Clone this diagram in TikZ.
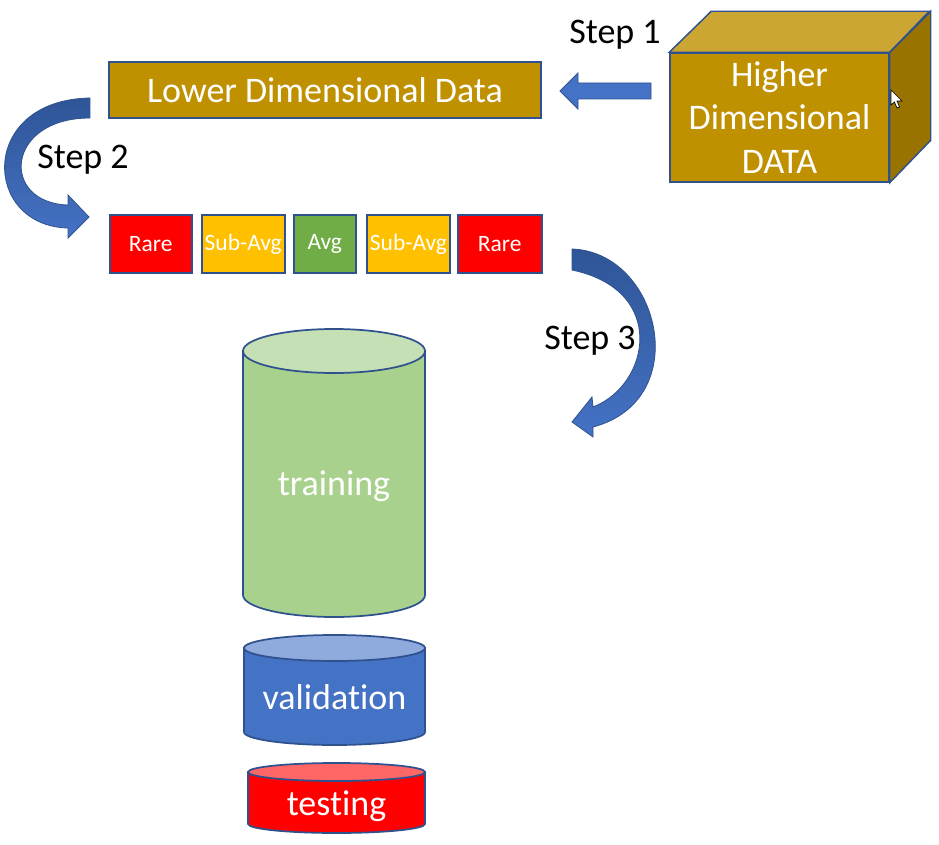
\documentclass[tikz,border=0pt]{standalone}
\usepackage{fontspec}
\setmainfont{Carlito}[Ligatures=NoCommon]

\definecolor{gold}{HTML}{BF9000}
\definecolor{goldtop}{HTML}{CCA633}
\definecolor{goldside}{HTML}{997300}
\definecolor{edgeblue}{HTML}{2F528F}
\definecolor{arrowblue}{HTML}{4472C4}
\definecolor{arrowdark}{HTML}{2F5597}
\definecolor{amber}{HTML}{FFC000}
\definecolor{avggreen}{HTML}{70AD47}
\definecolor{trainbody}{HTML}{A9D18E}
\definecolor{trainlid}{HTML}{C5E0B4}
\definecolor{valbody}{HTML}{4472C4}
\definecolor{vallid}{HTML}{8FAADC}
\definecolor{testbody}{HTML}{FF0000}
\definecolor{testlid}{HTML}{FF6666}

\tikzset{
  bigtext/.style={font=\fontsize{27}{32.4}\selectfont},
  smalltext/.style={font=\fontsize{17.6}{21}\selectfont},
  databox/.style={draw=edgeblue, fill=gold, text=white, bigtext, inner sep=0pt},
  classbox/.style={draw=edgeblue, line width=1.5pt, text=white, smalltext, inner sep=0pt, minimum height=42.75pt},
  blockarrow/.style={draw=edgeblue, line width=0.6pt, fill=arrowblue},
  curvearrow/.style={draw=edgeblue, line width=0.6pt, top color=arrowdark, bottom color=arrowblue},
  cylline/.style={draw=edgeblue, line width=1.3pt},
}

\begin{document}
\begin{tikzpicture}[x=0.75pt,y=-0.75pt]
  \fill[white] (0,0) rectangle (939,845);
  \useasboundingbox (0,0) rectangle (939,845);

  % the cube
  \node[databox, line width=1.1pt, minimum width=164.25pt, minimum height=96.75pt, align=center] (high) at (779.5,117.5) {Higher\\Dimensional\\DATA};
  \draw[draw=edgeblue, line width=1.1pt, fill=goldtop] (high.north west) -- ++(42,-41) -- ++(218,0) -- (high.north east) -- cycle;
  \draw[draw=edgeblue, line width=1.1pt, fill=goldside] (high.north east) -- ++(41,-41) -- ++(0,129) -- (high.south east) -- cycle;
  \fill[white, draw=black, line width=0.5pt] (891,90) -- (891,105) -- (894.5,102) -- (897,108) -- (899.5,107) -- (897,101) -- (902,101) -- cycle; % pointer

  % reduced data
  \node[databox, line width=1.5pt, minimum width=324pt, minimum height=42pt] (low) at (325,90) {Lower Dimensional Data};

  % step 1
  \node[bigtext] (step1) at (615,35) {Step 1};
  \draw[blockarrow] (651,83) -- (578,83) -- (578,73) -- (560,91) -- (578,109) -- (578,99) -- (651,99) -- cycle;

  % step 2
  \node[bigtext] (step2) at (83,160) {Step 2};
  \draw[curvearrow] (90,98) .. controls (-22,100) and (-18,226) .. (68,228) -- (68,238) -- (89,217) -- (68,195) -- (68,205)
    .. controls (0,203) and (5,118) .. (90,118) -- cycle;

  % classes
  \foreach \n/\x/\w/\c/\t in {rare1/150.75/82.5/red/Rare, sub1/243.25/83.5/amber/Sub-Avg, avg/324.75/62.5/avggreen/Avg, sub2/408.5/83/amber/Sub-Avg, rare2/499.75/83.5/red/Rare}
    \node[classbox, fill=\c, minimum width=0.75pt*\w] (\n) at (\x,244) {\t};

  % step 3
  \node[bigtext] (step3) at (590,341) {Step 3};
  \draw[curvearrow] (572,249) .. controls (660,252) and (695,400) .. (593,427) -- (593,437) -- (572,422) -- (592,397) -- (593,407)
    .. controls (650,385) and (668,290) .. (572,270) -- cycle;

  % the three sets
  \foreach \n/\cx/\rx/\yt/\yb/\ry/\body/\lid/\ty in {training/334/91/351/595/22/trainbody/trainlid/486, validation/334.5/90.5/648/732/13/valbody/vallid/697, testing/336.5/88.5/772/824/9/testbody/testlid/806} {
    \draw[cylline, fill=\body] (\cx-\rx,\yt) -- (\cx-\rx,\yb) arc[start angle=180, end angle=360, x radius=0.75pt*\rx, y radius=0.75pt*\ry] -- (\cx+\rx,\yt) -- cycle;
    \draw[cylline, fill=\lid] (\cx,\yt) ellipse[x radius=0.75pt*\rx, y radius=0.75pt*\ry];
    \node[bigtext, text=white] (\n) at (\cx,\ty) {\n};
  }
\end{tikzpicture}
\end{document}
